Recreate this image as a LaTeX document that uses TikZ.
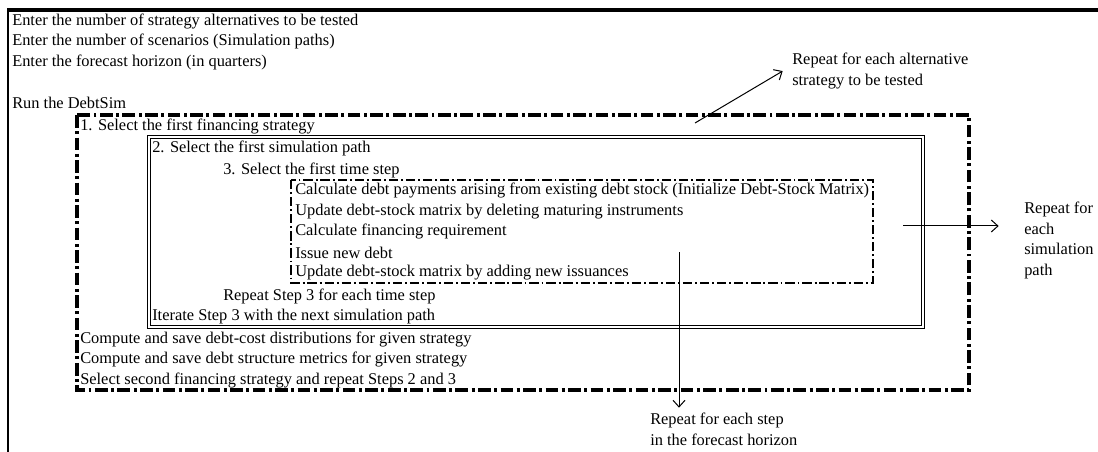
\documentclass[tikz,border=0pt]{standalone}
\usepackage{fontspec}
\setmainfont{Liberation Serif}
\usetikzlibrary{arrows.meta}
\tikzset{
  txt/.style={anchor=west, inner sep=0pt, font=\fontsize{12.3}{14}\selectfont},
  note/.style={anchor=north west, inner sep=0pt, align=left, font=\fontsize{12.3}{15.4}\selectfont},
  outerbox/.style={line width=2.4pt, dash pattern=on 9.5pt off 2.6pt on 2.2pt off 2.6pt},
  innerbox/.style={line width=1.3pt, dash pattern=on 7pt off 2.2pt on 1.4pt off 2.2pt},
  dblbox/.style={draw, line width=1.2pt, double, double distance=0.8pt},
  arr/.style={-{Straight Barb[length=5pt,width=9pt]}, line width=0.75pt}
}
\begin{document}
\begin{tikzpicture}[x=0.75pt,y=-0.75pt]
  \useasboundingbox (0,0) rectangle (1098,452);
  % frame
  \draw [line width=2.4pt] (1098,10) -- (7,10);
  \draw [line width=1.6pt] (8,10) -- (8,452);
  \node[txt] (nalt) at (12,21) {Enter the number of strategy alternatives to be tested};
  \node[txt] (nscen) at (12,41.5) {Enter the number of scenarios (Simulation paths)};
  \node[txt] (nhor) at (12,62) {Enter the forecast horizon (in quarters)};
  \node[txt] (run) at (12,103) {Run the DebtSim};
  % boxes
  \draw [outerbox] (77,115) rectangle (969,390);
  \draw [dblbox] (149,137) rectangle (923,327);
  \draw [innerbox] (291,180) rectangle (873,283);
  \node[txt] (step1) at (80,126) {1. Select the first financing strategy};
  \node[txt] (step2) at (152,148) {2. Select the first simulation path};
  \node[txt] (step3) at (223,170) {3. Select the first time step};
  \foreach \t [count=\i] in {Calculate debt payments arising from existing debt stock (Initialize Debt-Stock Matrix),
      Update debt-stock matrix by deleting maturing instruments,
      Calculate financing requirement,
      Issue new debt,
      Update debt-stock matrix by adding new issuances}
    \node[txt] (calc\i) at (295,{170+20.6*\i}) {\t};
  \node[txt] (rep3) at (223,296) {Repeat Step 3 for each time step};
  \node[txt] (iter) at (152,316.5) {Iterate Step 3 with the next simulation path};
  \node[txt] (cost) at (80,339) {Compute and save debt-cost distributions for given strategy};
  \node[txt] (metr) at (80,359.5) {Compute and save debt structure metrics for given strategy};
  \node[txt] (sec) at (80,380) {Select second financing strategy and repeat Steps 2 and 3};
  % notes
  \node[note] (lblstrat) at (792,53) {Repeat for each alternative\\strategy to be tested};
  \node[note] (lblpath) at (1024,202) {Repeat for\\each\\simulation\\path};
  \node[note] (lblstep) at (650,413) {Repeat for each step\\in the forecast horizon};
  \coordinate (p1) at (695,123);
  \coordinate (p2) at (903,226);
  \coordinate (p3) at (679,252);
  \draw [arr] (p1) -- ([xshift=-7pt]lblstrat.west);
  \draw [arr] (p2) -- ([xshift=-19pt]p2 -| lblpath.west);
  \draw [arr] (p3) -- ([yshift=4pt]p3 |- lblstep.north);
\end{tikzpicture}
\end{document}
